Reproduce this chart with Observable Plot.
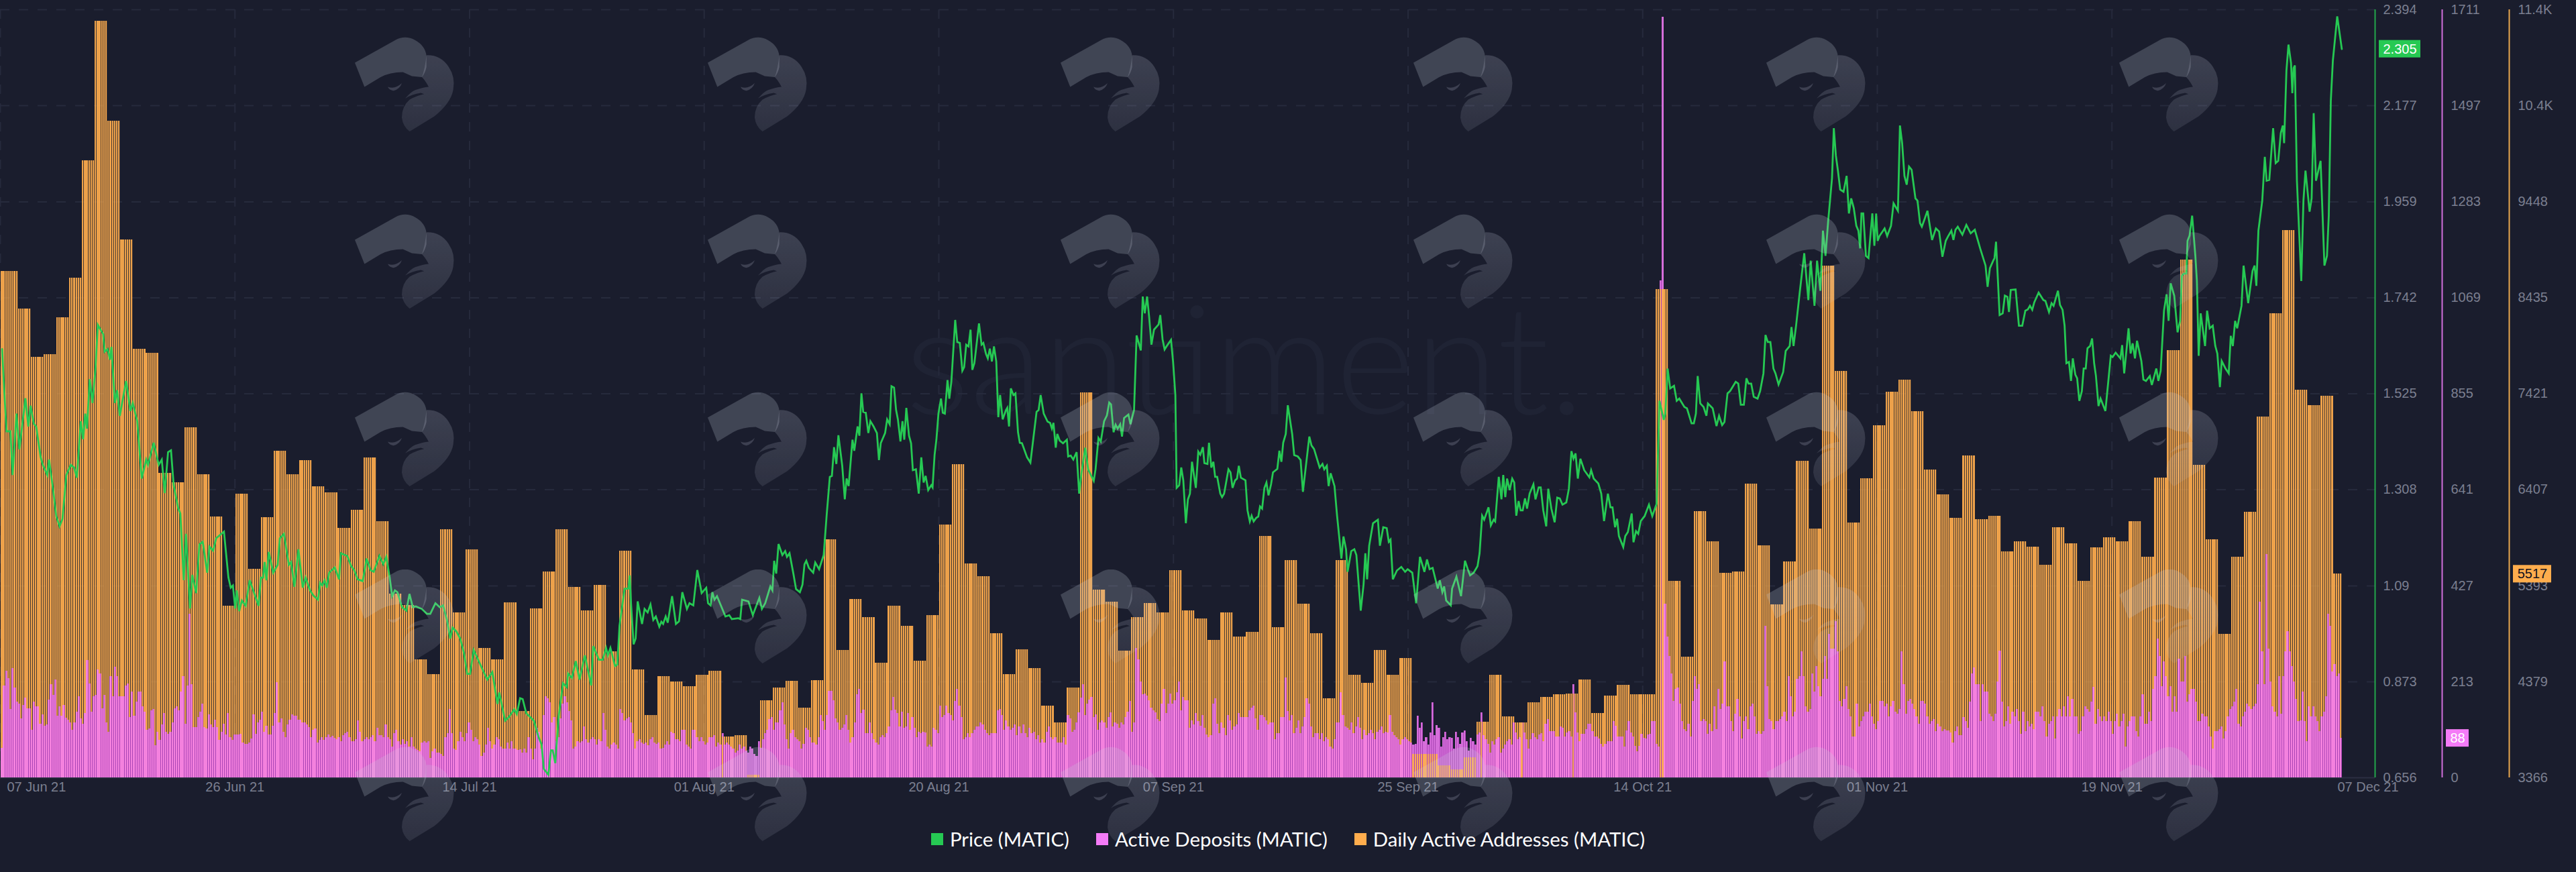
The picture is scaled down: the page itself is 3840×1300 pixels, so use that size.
<!DOCTYPE html>
<html><head><meta charset="utf-8">
<script src="https://cdn.jsdelivr.net/npm/d3@7"></script>
<script src="https://cdn.jsdelivr.net/npm/@observablehq/plot@0.6"></script>
<style>
html,body{margin:0;padding:0;background:#1a1d2d;}
#page{position:relative;width:3840px;height:1300px;overflow:hidden;background:#1a1d2d;}
#legend{position:absolute;left:0;top:1229px;width:3840px;display:flex;justify-content:center;align-items:center;font-family:Lato,sans-serif;font-size:29.4px;color:#fff;line-height:44px;}
#legend span.item{display:flex;align-items:center;margin:0 20px;}
#legend i{display:inline-block;width:18px;height:18px;margin-right:10px;}
#wm{position:absolute;left:529px;top:55px;width:2778px;height:1245px;pointer-events:none;background-repeat:repeat;background-size:526px 264.5px;}
</style></head><body>
<div id="page"><div id="chart"></div><div id="legend"></div><div id="wm"></div></div>
<script>
const seriesNames=["Price (MATIC)","Active Deposits (MATIC)","Daily Active Addresses (MATIC)"];
const seriesColors=["#26c953","#f47bf7","#ffad4d"];
const tickLabels=["07 Jun 21","26 Jun 21","14 Jul 21","01 Aug 21","20 Aug 21","07 Sep 21","25 Sep 21","14 Oct 21","01 Nov 21","19 Nov 21","07 Dec 21"];
const priceTicks=[2.394,2.177,1.959,1.742,1.525,1.308,1.09,0.873,0.656];
const depositTicks=["1711","1497","1283","1069","855","641","427","213","0"];
const addressTicks=["11.4K","10.4K","9448","8435","7421","6407","5393","4379","3366"];

const dailyAddresses=[8714,8317,7807,7835,8225,8643,9882,11356,10300,9047,7892,7850,6582,6483,7063,6567,6121,5179,6362,5569,6114,6815,6567,6716,6440,6376,
6001,6192,6745,6072,5307,5186,4613,4457,5987,5108,5774,4733,4613,5215,4067,5151,5540,5987,5378,5130,5399,4698,5760,4506,4025,4436,4379,4329,4450,4492,3798,3812,
3394,4181,4315,4386,4103,4393,5880,4712,5250,5059,4577,5179,4967,4598,5080,6036,6674,5625,5491,4889,4457,4719,4521,4124,3947,4315,7432,5349,5222,4705,5059,
5208,5108,5555,5130,5045,4818,5108,4853,4903,5916,4953,5661,5200,4889,4202,5661,4450,4365,4712,4450,4627,3614,3614,3493,3451,3578,3954,4450,4011,3947,4159,4216,
4244,4251,4400,4046,4230,4343,4244,4244,8522,5441,4641,6178,5859,5526,5540,6468,5817,5193,5647,6709,5994,8770,7658,6058,6525,7085,7439,7566,7233,6617,6355,
6107,6766,6093,6128,5753,5859,5803,5611,6008,5838,5441,5795,5902,5859,6072,5696,6532,7878,8834,6667,5880,4882,5696,6171,7177,8267,9146,7460,7297,7396,5517];

const depositsJun=[66,204,238,221,152,244,200,169,164,132,161,178,154,154,106,169,158,158,120,141,115,118,173,207,184,218,137,158,138,161,133,129,123,106,123,146,181,132,120,143,261,209,146,181,184,241,232,154,184,123,101,226,181,247,226,181,181,181,204,209,135,192,138,169,192,192,158,146,106,109,150,152,72,101,83,118,143,101,97,101,123,154,158,150,192,226,120,204,364,207,112,112,135,146,164,112,109,141,118,112,129,112,83,101,120,95,143,89,83,95,95,95,97,78,75,75,78,86,141,97,123,129,146,101,115,95,95,115,143,212,123,132,101,89,118,129,141,138,138,129,129,123,123,118,112,89,106,109,78,83,89,83,89,95,90,92,88];
const depositsJul=[85,90,81,94,99,102,90,81,80,85,127,102,81,85,90,85,90,94,80,110,94,94,90,118,90,85,69,98,106,81,73,85,75,81,69,90,69,65,61,58,77,80,77,80,44,58,65,56,56,52,48,90,98,152,98,65,61,81,102,90,81,98,123,106,81,90,85,73,48,56,73,110,81,65,73,90,85,69,65,65,77,65,80,65,65,61,63,56,65,56,90,65,40,65,110,102,65,139,181,177,168,123,135,81,90,131,164,181,168,148,127,65,69,81,77,81,114,85,77,85,90,85,73,85,81,143,106,69,65,73,77,73,65,152,143,127,131,135,123,98,65,81,85,77,75,77,71,85,90,77,75,77,65,66,73,81,73,102,98,85,85,81,106,106,73,69,65,106,106,90,81,90,81,73,77,90,90,94,69,77,73,98,73,77,73,69,65,56,60];
const depositsAug=[73,65,69,60,56,69,65,52,48,81,66,85,98,106,130,135,106,123,123,150,168,118,85,65,98,106,90,85,81,65,75,110,106,90,77,77,73,90,139,125,106,139,193,193,172,131,123,106,110,118,139,106,77,90,123,185,197,143,151,98,98,123,98,85,77,73,90,94,90,98,114,150,180,151,143,114,147,110,114,143,106,135,110,90,102,98,102,100,69,73,69,110,106,98,160,135,139,160,143,139,127,170,197,160,135,85,90,98,90,98,106,114,114,123,118,106,98,94,98,98,98,150,153,139,106,127,114,106,110,118,94,114,98,118,98,90,110,98,102,85,94,77,85,77,102,114,90,85,90,77,77,77,90,73,139,131,102,106,123,145,178,208,139,165,173,180,135,140,106,123,127,123,110,135,145,114,123,120,110,123,118,135,147,170,102,123,288,263];
const depositsSep=[214,185,187,183,172,155,150,145,130,125,165,197,143,165,187,165,172,190,214,150,180,172,172,110,127,118,143,125,115,139,110,95,90,94,165,177,120,98,123,110,94,139,127,106,114,118,143,135,135,135,135,150,155,160,131,106,139,139,135,127,118,122,123,85,98,98,135,135,222,148,127,139,98,110,127,98,114,135,176,165,114,90,98,98,85,98,81,90,85,69,65,85,123,123,190,139,114,110,106,123,98,114,135,110,85,106,94,98,106,98,85,102,106,114,98,102,100,139,102,94,90,85,73,85,90,85,81,77,73,75,137,110,122,81,90,73,100,167,94,116,110,69,90,102,85,90,88,65,102,90,75,100,105,81,60,88,80,73,95,100,145,94,85,75,56,81,73,85,90,56,65,73,81,85,73,123,100,85,90,123,100,85,65,85,98,90,85,95,98];
const depositsOct=[80,120,130,103,103,103,91,91,114,110,91,100,103,91,208,145,100,80,97,97,108,119,119,103,91,91,86,75,69,75,80,80,80,125,115,91,91,91,69,105,125,100,91,70,58,70,97,88,86,95,97,125,125,75,69,1108,1695,387,314,270,231,170,197,200,164,125,108,103,119,91,170,225,197,208,125,130,125,97,119,103,158,108,197,153,164,259,158,158,125,103,142,175,136,86,125,136,108,158,164,136,97,103,97,103,337,203,130,125,108,125,125,130,136,147,125,225,181,136,147,220,225,281,225,158,147,153,231,192,248,203,181,220,270,220,320,287,287,348,281,170,158,175,203,153,136,91,91,164,114,125,136,147,147,164,136,119,108,125,170,170,158,164,136,158,170,147,142,153,281,208,142,170,175,164,153,136,119,170,170,164,136,119,125,130,103,119,114,103,108];
const depositsNov=[105,105,100,78,103,114,94,94,134,125,111,169,231,245,208,208,125,208,192,192,142,136,125,142,214,283,169,114,125,158,119,147,136,153,125,97,147,103,125,114,119,108,147,147,136,158,125,91,119,125,136,86,136,153,136,158,136,181,136,175,136,136,97,103,136,158,153,147,169,201,119,153,136,125,136,125,147,125,97,125,142,114,125,142,69,114,125,136,136,103,91,136,186,119,119,147,125,197,225,309,270,203,259,225,181,203,147,181,147,264,214,214,270,169,186,197,197,169,125,125,142,136,136,114,91,64,103,103,108,114,86,103,136,153,158,169,197,119,114,136,147,164,158,153,158,164,208,392,281,208,498,287,214,158,147,136,225,142,225,281,326,281,248,214,175,125,127,192,125,80,158,136,158,136,125,103,136,147,181,365,337,236,253,225,232,88];
const depositBlocks=[[0,depositsJun],[157,depositsJul],[346,depositsAug],[534,depositsSep],[723,depositsOct],[912,depositsNov]];

const priceDays=[0.14,0.35,0.49,0.79,0.96,1.26,1.49,1.96,2.19,2.36,2.62,2.8,3.15,3.32,3.67,3.81,4.11,4.37,4.63,4.86,5.16,5.51,5.77,5.98,6.29,6.47,6.64,6.77,6.99,7.2,7.43,7.62,8.04,8.16,8.39,8.57,8.69,8.95,9.13,9.34,9.83,10.17,10.35,10.7,11.05,11.4,11.54,11.99,12.38,12.62,12.85,13.11,13.34,13.55,13.9,14.07,14.34,14.51,14.83,15,15.31,15.56,15.82,16.17,16.35,16.64,16.87,17.48,17.83,18.01,18.18,18.36,18.48,18.67,18.88,19.18,19.49,20.19,20.37,20.54,20.66,20.8,20.98,21.33,21.68,21.85,22.17,22.55,22.73,22.99,23.3,23.64,23.86,24.21,24.48,24.83,25,25.17,25.35,25.52,25.7,26.14,
26.48,26.62,27.12,27.42,27.66,27.93,28.33,28.63,28.93,29.19,29.63,29.93,30.17,30.43,30.63,30.84,31.04,31.4,31.74,31.98,32.24,32.48,32.94,33.34,33.61,34.01,34.35,34.61,34.91,35.17,35.35,35.65,35.95,36.25,36.49,36.72,37,37.46,38.06,38.46,38.86,39,39.46,39.77,40.17,40.37,40.63,40.83,41.11,41.71,42.07,42.31,42.48,42.84,43.04,43.18,43.38,43.64,43.98,44.28,44.38,44.68,44.98,45.28,45.69,46.19,46.35,46.79,47.09,47.35,47.49,47.69,48.05,48.23,48.4,48.8,49.1,49.2,49.3,49.5,49.66,49.82,50.16,50.36,50.6,50.82,51.04,51.24,51.51,51.67,51.81,52.01,52.17,52.51,52.81,53.05,53.31,53.67,53.87,54.17,54.48,54.82,55.18,55.32,55.52,55.66,55.82,56.02,56.32,56.68,56.98,57.18,57.69,
57.84,57.98,58.48,58.82,59.33,59.53,59.79,60.19,60.35,60.49,60.65,60.83,61.13,61.35,61.49,61.69,61.99,62.2,62.5,62.7,62.86,63,63.2,63.54,63.7,64,64.36,64.6,64.84,65,65.17,65.35,65.51,65.81,66.01,66.15,66.31,66.61,66.75,67.01,67.15,67.31,67.45,67.65,67.85,68.01,68.26,68.52,68.68,68.82,69.16,69.32,69.52,69.66,69.86,70.02,70.16,70.36,70.52,70.66,70.82,71.03,71.19,71.33,71.57,71.79,71.99,72.17,72.33,72.53,72.77,72.87,73.03,73.17,73.33,73.53,73.67,73.83,74.04,74.18,74.34,74.64,74.8,75,75.2,75.34,75.5,75.68,75.84,75.98,76.14,76.5,76.7,76.84,77.05,77.19,77.35,77.51,77.67,77.85,78.01,78.15,78.35,78.61,78.71,78.85,78.99,79.19,79.35,79.55,79.69,79.86,80.26,80.52,81,81.16,81.32,81.56,81.86,82.06,82.2,82.32,82.5,82.62,82.81,83.07,83.37,83.47,83.67,83.87,84.13,84.33,84.51,84.81,85.03,85.47,85.61,85.84,86.02,86.28,86.5,86.68,86.82,87.02,87.18,87.34,87.54,87.68,87.84,88.18,88.34,88.62,88.82,89.15,
89.3,89.46,89.64,89.8,89.98,90.18,90.54,90.67,90.85,91.01,91.25,91.51,91.67,91.85,91.95,92.15,92.31,92.47,92.67,92.83,92.99,93.15,93.45,93.64,93.8,94,94.12,94.36,94.48,94.66,94.82,94.96,95.12,95.36,95.5,95.66,96,96.16,96.32,96.52,96.67,96.81,96.97,97.33,97.49,97.67,97.81,97.97,98.17,98.33,98.47,98.63,98.81,98.97,99.13,99.33,99.48,99.82,99.98,100.14,100.28,100.48,100.64,100.98,101.14,101.42,101.64,101.82,102.32,102.49,102.69,103.13,103.35,103.49,103.69,103.83,103.99,104.29,104.49,104.83,104.99,105.19,105.31,105.6,105.84,106,106.34,106.56,106.7,106.84,107,107.3,107.68,107.84,108.1,108.37,108.53,108.67,108.85,109.17,109.51,109.81,110.01,110.37,110.67,110.97,111.32,111.52,111.72,111.96,112.36,112.52,112.72,112.86,113.02,113.38,113.48,113.82,114.18,114.49,114.73,114.89,115.17,115.47,115.63,115.83,115.99,116.33,116.51,116.73,116.85,117.13,117.34,117.48,117.64,117.78,117.98,118.18,118.34,118.5,118.68,118.84,119,119.18,119.34,119.54,119.84,120,120.25,120.41,120.61,
120.84,121,121.24,121.5,121.7,121.9,122.11,122.41,122.61,122.81,122.97,123.13,123.31,123.51,123.81,124.21,124.35,124.55,124.91,125.14,125.36,125.66,125.86,126.02,126.22,126.38,126.52,126.86,127.02,127.22,127.52,127.66,127.86,128.03,128.23,128.53,128.87,129.13,129.47,129.57,129.69,130.03,130.15,130.33,130.53,130.83,131.04,131.24,131.64,131.84,132.2,132.38,132.54,132.68,132.88,133.14,133.36,133.48,133.85,134.15,134.35,134.59,134.77,135.01,135.21,135.65,135.85,136.05,136.29,136.49,136.65,136.86,137.06,137.36,137.56,137.82,137.98,138.16,138.36,138.6,138.76,139,139.36,139.56,139.87,140.01,140.17,140.37,140.67,141.01,141.33,141.51,141.81,142.01,142.27,142.47,142.67,142.88,143.18,143.32,143.48,143.64,143.82,144.08,144.32,144.5,144.68,144.88,145.08,145.24,145.38,145.48,145.62,145.83,146.03,146.33,146.49,146.63,146.75,146.89,147.29,147.49,147.79,147.99,148.33,148.49,148.66,148.84,149.02,149.2,149.4,149.7,149.86,150.06,150.2,150.4,150.64,151,151.3,151.55,151.81,152.07,
152.23,152.51,152.67,152.83,153.01,153.37,153.68,154.02,154.34,154.78,155.18,155.34,155.52,155.78,155.88,156,156.28,156.52,156.69,156.89,157.01,157.15,157.53,157.79,158.05,158.29,158.49,158.65,158.83,158.99,159.33,159.7,159.86,160.14,160.34,160.5,160.84,161,161.2,161.36,161.5,161.7,161.86,162,162.2,162.34,162.51,162.71,162.85,163.01,163.15,163.35,163.51,163.67,163.81,164.01,164.17,164.55,164.97,165.11,165.35,165.72,165.86,166.02,166.36,166.52,166.68,166.86,167.02,167.36,167.52,167.72,168.02,168.18,168.53,168.69,168.87,169.13,169.33,169.49,169.65,169.93,170.19,170.39,170.53,170.69,170.87,170.97,171.13,171.33,171.58,171.7,171.84,172,172.34,172.5,172.7,172.94,173.14,173.3,173.5,173.64,173.94,174.19,174.35,174.51,174.69,174.85,175.19,175.35,175.71,176.05,176.21,176.35,176.51,176.81,177.01,177.15,177.36,177.66,177.86,178.06,178.26,178.42,178.52,178.7,178.86,179.06,179.16,179.26,179.36,179.52,179.86,180.03,180.19,180.51,180.67,180.83,181.01,181.37,181.67,181.87,182.01,182.17,182.33,182.67,183.03];
const priceValues=[1.626,1.509,1.44,1.44,1.341,1.48,1.399,1.515,1.451,1.498,1.457,1.451,1.382,1.364,1.341,1.376,1.312,1.248,1.225,1.242,1.341,1.364,1.358,1.335,1.463,1.422,1.48,1.446,1.558,1.504,1.579,1.681,1.66,1.62,1.626,1.602,1.631,1.504,1.533,1.475,1.554,1.486,1.504,1.463,1.333,1.376,1.364,1.414,1.364,1.376,1.3,1.393,1.397,1.318,1.266,1.254,1.103,1.208,1.039,1.115,1.074,1.184,1.19,1.12,1.179,1.17,1.198,1.213,1.109,1.086,1.091,1.039,1.08,1.033,1.057,1.045,1.103,1.045,1.109,1.109,1.144,1.103,1.167,1.12,1.138,1.198,1.208,1.138,1.144,1.088,1.173,1.086,1.109,1.08,1.068,1.059,1.097,1.091,1.103,1.086,1.12,1.132,
1.105,1.164,1.158,1.135,1.126,1.105,1.101,1.152,1.126,1.122,1.158,1.139,1.156,1.11,1.067,1.08,1.076,1.042,1.034,1.072,1.042,1.044,1.038,1.027,1.027,1.051,1.042,1.046,1.013,0.971,0.996,0.987,0.971,0.937,0.891,0.891,0.945,0.916,0.878,0.895,0.823,0.849,0.785,0.794,0.811,0.8,0.836,0.834,0.802,0.785,0.748,0.731,0.676,0.663,0.718,0.718,0.689,0.794,0.87,0.861,0.892,0.882,0.92,0.878,0.933,0.865,0.954,0.923,0.923,0.95,0.933,0.95,0.909,0.912,1,1.084,1.084,1.114,1.051,0.958,0.971,1.055,1.004,1.038,1.03,1.048,1.013,1.021,0.998,1.009,1.004,1.021,1.007,1.067,1.004,1.01,1.076,1.038,1.051,1.046,1.126,1.074,1.086,1.051,1.046,1.076,1.059,1.067,1.046,1.021,1.024,1.015,1.017,
1.015,1.059,1.055,1.024,1.063,1.038,1.051,1.089,1.08,1.147,1.118,1.185,1.16,1.169,1.156,1.164,1.118,1.083,1.076,1.093,1.139,1.147,1.131,1.12,1.143,1.128,1.16,1.253,1.337,1.339,1.404,1.366,1.431,1.362,1.286,1.333,1.316,1.421,1.396,1.451,1.43,1.526,1.484,1.482,1.436,1.463,1.451,1.436,1.375,1.413,1.436,1.467,1.456,1.542,1.539,1.488,1.467,1.417,1.463,1.421,1.493,1.43,1.413,1.352,1.354,1.299,1.381,1.324,1.339,1.307,1.318,1.313,1.387,1.421,1.48,1.514,1.482,1.48,1.556,1.514,1.552,1.692,1.642,1.64,1.577,1.585,1.636,1.632,1.67,1.579,1.594,1.684,1.636,1.64,1.615,1.605,1.627,1.598,1.632,1.598,1.472,1.522,1.467,1.488,1.493,1.451,1.537,1.522,1.526,1.438,1.414,1.413,1.381,1.369,1.484,1.488,1.522,1.48,1.462,1.459,1.446,1.459,1.403,1.434,1.419,1.413,1.421,1.383,1.385,1.376,1.393,1.299,1.345,1.403,1.354,1.328,1.354,1.425,1.417,1.463,1.476,1.505,1.501,1.438,1.455,1.446,1.456,1.428,1.47,1.478,1.456,1.488,1.657,1.623,
1.745,1.707,1.745,1.699,1.636,1.67,1.682,1.703,1.648,1.625,1.636,1.647,1.598,1.522,1.312,1.318,1.358,1.329,1.232,1.286,1.299,1.371,1.312,1.394,1.387,1.404,1.368,1.366,1.414,1.358,1.371,1.337,1.337,1.299,1.291,1.299,1.354,1.347,1.312,1.329,1.333,1.362,1.335,1.329,1.261,1.236,1.249,1.236,1.244,1.247,1.27,1.265,1.312,1.324,1.295,1.32,1.347,1.355,1.396,1.371,1.414,1.434,1.499,1.434,1.386,1.383,1.375,1.303,1.428,1.408,1.4,1.358,1.366,1.354,1.362,1.316,1.345,1.316,1.249,1.152,1.202,1.173,1.122,1.169,1.173,1.16,1.034,1.093,1.164,1.105,1.181,1.232,1.24,1.181,1.223,1.221,1.19,1.195,1.105,1.125,1.133,1.122,1.128,1.12,1.051,1.156,1.122,1.15,1.128,1.131,1.084,1.103,1.076,1.089,1.057,1.046,1.084,1.111,1.067,1.147,1.126,1.114,1.12,1.135,1.164,1.249,1.24,1.268,1.227,1.24,1.236,1.337,1.286,1.341,1.291,1.333,1.307,1.333,1.324,1.249,1.282,1.261,1.261,1.288,1.265,1.299,1.32,1.286,1.313,1.313,1.261,
1.225,1.31,1.265,1.234,1.29,1.288,1.274,1.279,1.31,1.395,1.378,1.39,1.333,1.378,1.352,1.336,1.352,1.333,1.322,1.299,1.237,1.299,1.268,1.268,1.223,1.242,1.203,1.178,1.203,1.212,1.254,1.189,1.214,1.208,1.237,1.248,1.274,1.248,1.276,1.384,1.509,1.466,1.48,1.582,1.537,1.543,1.509,1.514,1.495,1.492,1.458,1.458,1.48,1.565,1.503,1.495,1.475,1.503,1.492,1.452,1.475,1.454,1.461,1.526,1.531,1.552,1.548,1.5,1.5,1.56,1.548,1.548,1.518,1.514,1.531,1.571,1.658,1.642,1.642,1.582,1.571,1.546,1.574,1.622,1.633,1.676,1.633,1.679,1.758,1.843,1.737,1.826,1.724,1.826,1.758,1.894,1.837,1.916,2.013,2.126,2.064,2.03,1.987,1.982,2.018,1.933,1.967,1.945,1.905,1.894,1.854,1.933,1.933,1.837,1.832,1.933,1.86,1.933,1.871,1.882,1.899,1.882,1.905,1.956,1.939,2.132,2.092,2.018,1.998,2.039,2.032,1.967,1.962,1.911,1.903,1.919,1.939,1.873,1.899,1.892,1.835,1.871,
1.88,1.894,1.873,1.896,1.903,1.885,1.907,1.888,1.896,1.852,1.815,1.767,1.809,1.826,1.832,1.869,1.703,1.707,1.747,1.744,1.71,1.76,1.761,1.679,1.679,1.713,1.716,1.724,1.715,1.732,1.754,1.737,1.735,1.71,1.73,1.724,1.758,1.726,1.715,1.679,1.594,1.597,1.554,1.605,1.568,1.56,1.509,1.531,1.582,1.582,1.628,1.633,1.65,1.594,1.565,1.497,1.514,1.486,1.611,1.608,1.618,1.605,1.635,1.571,1.673,1.616,1.639,1.605,1.645,1.599,1.557,1.554,1.565,1.545,1.582,1.554,1.577,1.713,1.75,1.69,1.775,1.747,1.664,1.69,1.792,1.797,1.797,1.871,1.883,1.928,1.837,1.781,1.611,1.707,1.633,1.713,1.673,1.679,1.633,1.616,1.54,1.599,1.582,1.571,1.656,1.633,1.69,1.673,1.724,1.815,1.73,1.803,1.815,1.769,1.894,1.962,2.061,2.007,2.009,2.126,2.047,2.052,2.115,2.132,2.092,2.256,2.315,2.273,2.205,2.262,2.268,2.007,1.78,1.962,2.03,1.937,1.967,2.16,2.007,2.052,1.815,1.837,1.928,2.188,2.279,2.379,2.305];

// ---- scales shared through the price axis ----
const DAY=864e5;
const start=Date.UTC(2021,5,7);
const end=start+185.63*DAY;
const width=3840,marginRight=300,marginTop=14,height=1200,marginBottom=41;
const plotH=height-marginTop-marginBottom;
const yMin=priceTicks[priceTicks.length-1],yMax=priceTicks[0];
const fromDeposits=d3.scaleLinear([0,1711],[yMin,yMax]);
const fromAddresses=d3.scaleLinear([3366,11476],[yMin,yMax]);
const msPerPx=(end-start)/(width-marginRight);
const pricePerPx=(yMax-yMin)/plotH;

const when=d=>new Date(start+d*DAY);
const priceRows=priceDays.map((d,i)=>({t:when(d),p:priceValues[i]}));

// one thin column every four hours; addresses hold their daily value across them
const stripePhase=0.067,stripeStep=1/6,stripeFill=0.72;
const deposits=[];
depositBlocks.forEach(([s,vals])=>vals.forEach((v,i)=>{deposits[s+i]=v;}));
const stripes=d3.range(1098).map(s=>{
  const k=s<8?0:1+Math.floor((s-8)/6);
  const dep=deposits[s]===undefined?0:deposits[s];
  const a=dailyAddresses[k];
  return {t1:when(stripePhase+s*stripeStep),t2:when(stripePhase+(s+stripeFill)*stripeStep),t3:when(stripePhase+(s+1)*stripeStep),
    addr:fromAddresses(a),dep:fromDeposits(dep)};
});
const backOrange=stripes.filter(d=>d.addr>=d.dep);
const frontOrange=stripes.filter(d=>d.addr<d.dep);

const tickStep=18.34;
const tickRows=tickLabels.map((label,i)=>({label,t:when(i*tickStep)}));
const gridColor="#262a3c",axisText="#7b7f90",tickFont="'Liberation Sans',Arial,sans-serif";
const priceTickRows=priceTicks.map((p,i)=>({p,price:String(p),dep:depositTicks[i],addr:addressTicks[i]}));

const lastPrice=priceValues[priceValues.length-1];
const lastDep=deposits[deposits.length-1];
const lastAddr=dailyAddresses[dailyAddresses.length-1];
function tag(value,yVal,dx0,w,fill,color){
  const h=13*pricePerPx;
  return [
    Plot.rect([0],{x1:()=>new Date(end+dx0*msPerPx),x2:()=>new Date(end+(dx0+w)*msPerPx),y1:()=>yVal-h,y2:()=>yVal+h,fill}),
    Plot.text([String(value)],{x:()=>new Date(end),y:()=>yVal,dx:dx0+w/2,text:d=>d,fill:color,fontSize:20,fontFamily:tickFont,textAnchor:"middle"})
  ];
}
const fillOrange=seriesColors[2],fillPink=seriesColors[1];
const crisp={shapeRendering:"crispEdges"};

const chart=Plot.plot({
  width,height,marginLeft:0,marginRight,marginTop,marginBottom,
  style:{background:"transparent",overflow:"visible"},
  x:{type:"utc",domain:[new Date(start),new Date(end)],axis:null},
  y:{domain:[yMin,yMax],axis:null},
  marks:[
    Plot.text(["santiment."],{frameAnchor:"middle",dx:85,dy:-42,text:d=>d,fontSize:226,fontFamily:"Lato,sans-serif",fontWeight:300,fill:"#1f2334"}),
    Plot.ruleY(priceTicks.slice(0,-1),{y:d=>d,stroke:gridColor,strokeWidth:2,strokeDasharray:"14,14"}),
    Plot.ruleX(tickRows.slice(0,-1),{x:"t",stroke:gridColor,strokeWidth:2,strokeDasharray:"14,14"}),
    Plot.ruleY([yMin],{stroke:"#2b2f42",strokeWidth:2}),
    Plot.rect(backOrange,{x1:"t1",x2:"t3",y1:()=>yMin,y2:"addr",fill:fillOrange,fillOpacity:0.2,...crisp}),
    Plot.rect(backOrange,{x1:"t1",x2:"t2",y1:()=>yMin,y2:"addr",fill:fillOrange,fillOpacity:0.9,...crisp}),
    Plot.rect(stripes,{x1:"t2",x2:"t3",y1:()=>yMin,y2:"dep",fill:"#a944b5",...crisp}),
    Plot.rect(stripes,{x1:"t1",x2:"t2",y1:()=>yMin,y2:"dep",fill:fillPink,fillOpacity:0.86,...crisp}),
    Plot.rect(frontOrange,{x1:"t1",x2:"t2",y1:()=>yMin,y2:"addr",fill:fillOrange,fillOpacity:0.92,...crisp}),
    Plot.line(priceRows,{x:"t",y:"p",stroke:seriesColors[0],strokeWidth:2.8,strokeLinejoin:"miter",strokeMiterlimit:4}),
    Plot.text(tickRows.slice(1,-1),{x:"t",text:"label",frameAnchor:"bottom",dy:20,fill:axisText,fontSize:20,fontFamily:tickFont}),
    Plot.text(tickRows.slice(0,1),{x:"t",text:"label",frameAnchor:"bottom",dy:20,dx:10,textAnchor:"start",fill:axisText,fontSize:20,fontFamily:tickFont}),
    Plot.text(tickRows.slice(-1),{x:"t",text:"label",frameAnchor:"bottom",dy:20,dx:32,fill:axisText,fontSize:20,fontFamily:tickFont}),
    Plot.ruleX([new Date(end)],{x:d=>d,stroke:"#26c953",strokeWidth:2,strokeOpacity:.8}),
    Plot.ruleX([new Date(end)],{x:d=>d,dx:100,stroke:"#d070dc",strokeWidth:2}),
    Plot.ruleX([new Date(end)],{x:d=>d,dx:200,stroke:"#e8a64e",strokeWidth:2}),
    Plot.text(priceTickRows,{x:()=>new Date(end),y:"p",text:"price",dx:12,textAnchor:"start",fill:axisText,fontSize:20,fontFamily:tickFont}),
    Plot.text(priceTickRows,{x:()=>new Date(end),y:"p",text:"dep",dx:113,textAnchor:"start",fill:axisText,fontSize:20,fontFamily:tickFont}),
    Plot.text(priceTickRows,{x:()=>new Date(end),y:"p",text:"addr",dx:213,textAnchor:"start",fill:axisText,fontSize:20,fontFamily:tickFont}),
    ...tag(lastPrice,lastPrice,6,62,seriesColors[0],"#ffffff"),
    ...tag(lastDep,fromDeposits(lastDep),106,34,seriesColors[1],"#ffffff"),
    ...tag(lastAddr,fromAddresses(lastAddr),206,57,seriesColors[2],"#14141f")
  ]
});
document.getElementById("chart").appendChild(chart);

const legend=document.getElementById("legend");
seriesNames.forEach((n,i)=>{
  const s=document.createElement("span");s.className="item";
  s.innerHTML=`<i style="background:${seriesColors[i]}"></i>${n}`;
  legend.appendChild(s);
});

const logo=`<svg xmlns="http://www.w3.org/2000/svg" width="526" height="264.5" viewBox="0 0 526 264.5"><defs><linearGradient id="g" x1="0" y1="0" x2="0" y2="1"><stop offset="0" stop-color="#c8cfe0" stop-opacity=".2"/><stop offset="1" stop-color="#c8cfe0" stop-opacity=".11"/></linearGradient></defs><g transform="scale(.3333) translate(-85,-15)"><path fill="#c8cfe0" fill-opacity=".22" d="M85 130L265 30Q310 5 355 30Q400 55 405 100L405 150Q400 175 385 195L340 190L300 172Q240 172 200 195L128 238Z"/><path fill="url(#g)" d="M405 97Q470 95 505 150Q535 195 525 250Q515 310 440 370L330 437Q300 415 295 375Q295 325 330 295Q365 275 395 270L380 265Q340 270 310 290Q335 260 355 252Q390 240 415 238Q400 210 385 195Q400 150 405 97Z"/><path fill="#c8cfe0" fill-opacity=".2" d="M232 238Q265 250 295 222Q285 250 258 255Q240 253 232 238Z"/></g></svg>`;
document.getElementById("wm").style.backgroundImage=`url("data:image/svg+xml,${encodeURIComponent(logo)}")`;
</script>
</body></html>
